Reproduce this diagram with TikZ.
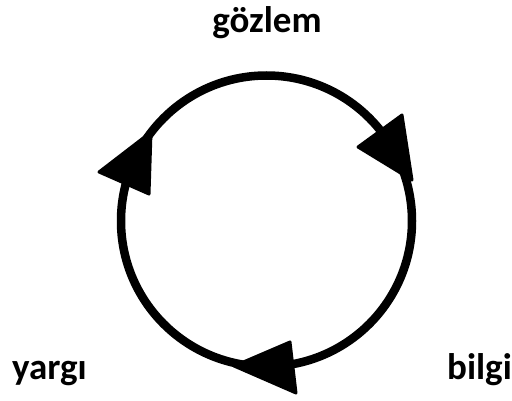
\documentclass[tikz,border=0pt]{standalone}
\usepackage{fontspec}
\setmainfont{Carlito}
\begin{document}
\begin{tikzpicture}[x=1pt,y=-1pt,
  lbl/.style={font=\fontsize{37}{44}\selectfont\bfseries, inner sep=0pt},
  ring/.style={line width=8.5pt},
  head/.style={fill=black, draw=black, line width=3pt, line join=round}]
\useasboundingbox (0,0) rectangle (512,401);
\coordinate (c) at (266.5,221);
\draw[ring] (c) circle[radius=145.5];
\fill[head] (402,115) -- (358,147) -- (412,180) -- cycle;
\fill[head] (151,132) -- (99,172) -- (149,194) -- cycle;
\fill[head] (290,342) -- (234,366) -- (296,393) -- cycle;
\node[lbl, anchor=base] (gozlem) at (267,33) {gözlem};
\node[lbl, anchor=base west] (yargi) at (12,379) {yargı};
\node[lbl, anchor=base east] (bilgi) at (512,379) {bilgi};
\end{tikzpicture}
\end{document}
